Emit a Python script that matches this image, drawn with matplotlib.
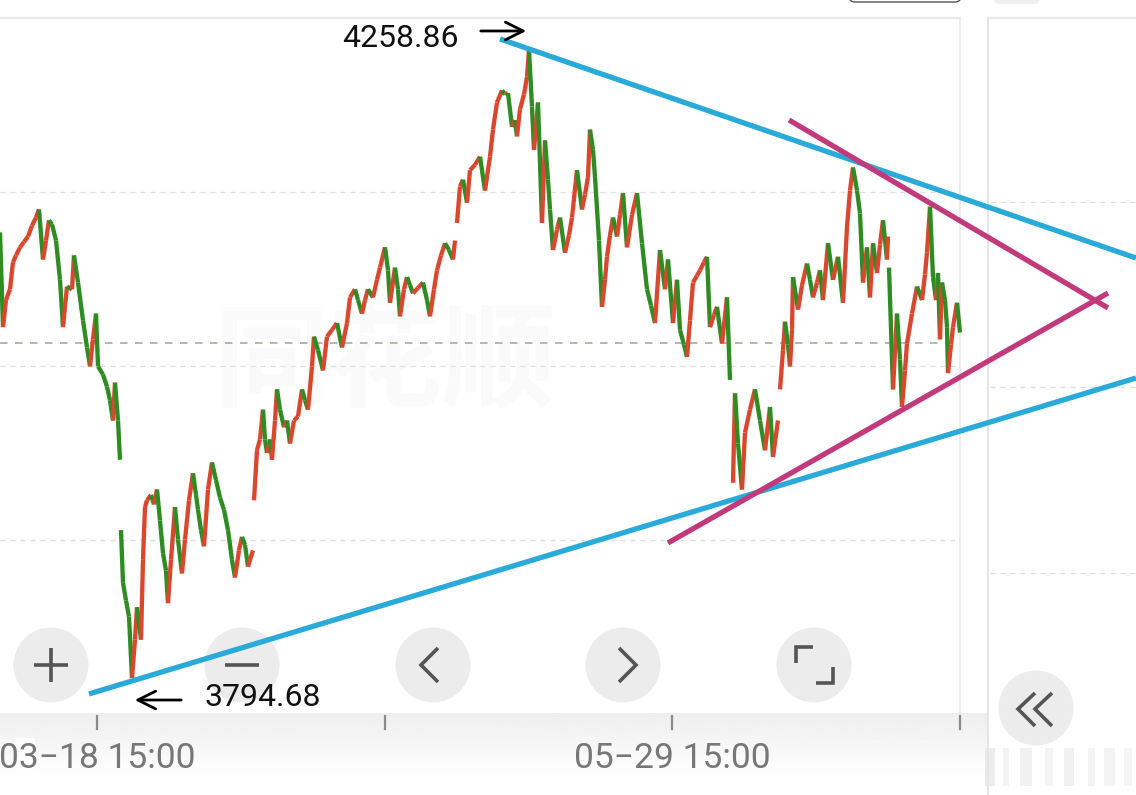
import numpy as np
import matplotlib.pyplot as plt
from matplotlib.collections import LineCollection
from matplotlib.patches import Circle, FancyBboxPatch, Rectangle
from matplotlib.transforms import blended_transform_factory

plt.rcParams['font.family'] = ['Roboto', 'DejaVu Sans']

# price sessions (bar index, price) - breaks between sessions are gaps
s1_bar = [0, 3, 6, 10, 13, 16, 20, 24, 28, 32, 36, 39, 43, 46, 49, 52, 56, 60, 63, 67, 72, 74, 78, 83, 87, 90,
          93, 96, 98, 103, 107, 110, 113, 115, 118, 120]
s1_px = [4124, 4054, 4074, 4082, 4102, 4107, 4113, 4117, 4121, 4129, 4135, 4141, 4104, 4118, 4133, 4130, 4118,
         4089, 4054, 4084, 4082, 4107, 4087, 4059, 4039, 4025, 4045, 4064, 4025, 4019, 4010, 4000, 3985, 4013,
         3985, 3956]

s2_bar = [121, 123, 126, 129, 132, 135, 137, 141, 143, 145, 147, 151, 154, 157, 160, 163, 166, 168, 171, 175, 178,
          182, 185, 189, 193, 196, 198, 201, 204, 208, 212, 216, 220, 224, 228, 232, 235, 239, 242, 245, 248, 253]
s2_px = [3904, 3865, 3852, 3840, 3794.68, 3823, 3847, 3823, 3882, 3921, 3926, 3930, 3923, 3934, 3911, 3887, 3874,
         3850, 3882, 3921, 3897, 3872, 3897, 3926, 3946, 3930, 3919, 3904, 3892, 3934, 3954, 3941, 3928, 3919,
         3904, 3882, 3869, 3889, 3899, 3893, 3877, 3889]

s3_bar = [254, 257, 260, 263, 265, 267, 270, 272, 275, 277, 280, 284, 287, 290, 294, 298, 302, 305, 308, 312, 314,
          318, 323, 327, 332, 337, 342, 347, 350, 355, 358, 362, 365, 368, 373, 377, 380, 385, 388, 390, 395, 398,
          400, 404, 407, 410, 413, 418, 423, 427, 430, 434, 437, 441, 445, 449, 453, 455]
s3_px = [3926, 3963, 3971, 3993, 3971, 3961, 3971, 3956, 3985, 4008, 3993, 3980, 3985, 3968, 3985, 3988, 4008,
         4000, 3993, 4025, 4047, 4037, 4022, 4047, 4052, 4057, 4039, 4057, 4076, 4082, 4074, 4064, 4074, 4082,
         4076, 4089, 4098, 4113, 4096, 4072, 4098, 4082, 4062, 4082, 4091, 4085, 4079, 4083, 4087, 4074, 4062,
         4082, 4096, 4107, 4116, 4111, 4104, 4118]

s4_bar = [457, 460, 463, 467, 470, 475, 480, 485, 490, 493, 497, 502, 505, 508, 512, 515, 517, 520, 524, 527, 529,
          532, 534, 538, 542, 545, 548, 550, 553, 557, 560, 565, 569, 572, 577, 582, 585, 588, 590, 593, 595, 599,
          602, 605, 607, 610, 613, 617, 620, 623, 627, 632, 637, 642, 647, 651, 655, 660, 665, 668, 673, 677, 680,
          684, 687, 690, 693, 697, 700, 704, 707, 710, 714, 717, 722, 727, 730]
s4_px = [4131, 4158, 4163, 4146, 4170, 4174, 4180, 4155, 4180, 4200, 4220, 4229, 4226, 4227, 4202, 4207, 4195,
         4215, 4226, 4239, 4258.86, 4217, 4185, 4220, 4131, 4192, 4163, 4141, 4111, 4126, 4135, 4109, 4122, 4135,
         4170, 4141, 4152, 4165, 4200, 4185, 4165, 4118, 4069, 4089, 4106, 4122, 4135, 4121, 4137, 4153, 4113,
         4137, 4153, 4116, 4082, 4070, 4057, 4111, 4082, 4104, 4057, 4089, 4052, 4041, 4032, 4059, 4087, 4092,
         4096, 4102, 4106, 4054, 4063, 4069, 4042, 4076, 4015]

s5_bar = [733, 735, 738, 742, 745, 750, 755, 760, 765, 770, 773, 778]
s5_px = [3939, 4005, 3968, 3934, 3976, 3993, 4008, 3985, 3963, 3995, 3958, 3985]

s6_bar = [780, 783, 785, 788, 790, 792, 793, 798, 802, 807, 810, 813, 817, 820, 823, 828, 833, 838, 843, 847, 850,
          853, 857, 860, 863, 867, 870, 873, 877, 880, 883, 887, 888]
s6_px = [4008, 4037, 4058, 4041, 4025, 4052, 4091, 4067, 4085, 4101, 4089, 4076, 4087, 4096, 4074, 4116, 4089,
         4106, 4072, 4128, 4155, 4172, 4155, 4138, 4087, 4113, 4076, 4116, 4094, 4115, 4133, 4104, 4121]

s7_bar = [889, 893, 897, 900, 902, 905, 907, 912, 917, 922, 925, 927, 930, 933, 936, 938, 940, 942, 945, 947, 948,
          951, 953, 957, 960]
s7_px = [4098, 4008, 4064, 4030, 3995, 4022, 4042, 4064, 4084, 4074, 4093, 4109, 4143, 4091, 4074, 4094, 4045,
         4087, 4074, 4054, 4020, 4041, 4054, 4072, 4050]

# hand drawn trend lines (bar, price)
cyan_up_bar, cyan_up_px = [500, 1136], [4267.0, 4105.1]
cyan_lo_bar, cyan_lo_px = [89, 1136], [3782.9, 4016.4]
mag_up_bar, mag_up_px = [789, 1108], [4207.1, 4068.2]
mag_lo_bar, mag_lo_px = [668, 1108], [3894.5, 4079.2]

high_val, high_bar = 4258.86, 529
low_val, low_bar = 3794.68, 132

tick_bars = [97, 385, 672, 960]
tick_text = {97: '03\u221218 15:00', 672: '05\u221229 15:00'}

grid_main = [4153.9, 4025.3, 3896.7]
prev_close = 4042.3
grid_side = [4146.5, 4009.8, 3872.3]

RED = '#d9472f'
GREEN = '#2f8c22'
CYAN = '#29aad8'
MAG = '#c13a7b'

fig = plt.figure(figsize=(11.36, 7.95), dpi=100)

# app chrome layer in pixel coordinates
ui = fig.add_axes([0, 0, 1, 1])
ui.axis('off')
grad = np.linspace(0.935, 1.0, 60).reshape(-1, 1)
ui.imshow(grad, cmap='gray', vmin=0, vmax=1, extent=[0, 988, 780, 713], aspect='auto', origin='upper', zorder=0)
ui.set_xlim(0, 1136)
ui.set_ylim(795, 0)

# borders
ui.plot([0, 960], [18, 18], color='#e9e9e9', lw=1.6)
ui.plot([988, 1136], [18, 18], color='#e9e9e9', lw=1.6)
ui.plot([960, 960], [18, 713], color='#ececec', lw=1.4)
ui.plot([988, 988], [18, 795], color='#e6e6e6', lw=1.6)
ui.add_patch(FancyBboxPatch((849, -20), 112, 22, boxstyle='round,pad=0,rounding_size=6',
                            fc='white', ec='#555555', lw=1.0))
ui.add_patch(FancyBboxPatch((994, -20), 46, 24, boxstyle='round,pad=0,rounding_size=6',
                            fc='#efefef', ec='none'))

# blurry watermark bars at bottom right
for bx, bw, bc in [(985, 10, '#e6e6e6'), (1003, 6, '#efefef'), (1020, 12, '#ececec'), (1045, 8, '#f0f0f0'),
                   (1064, 10, '#ebebeb'), (1088, 7, '#f0f0f0'), (1104, 11, '#eeeeee'), (1124, 8, '#f1f1f1')]:
    ui.add_patch(Rectangle((bx, 748), bw, 38, fc=bc, ec='none', alpha=0.7))

# faint watermark
ui.text(385, 365, '同花顺', family=['Noto Sans CJK SC'], fontsize=82, fontweight='bold', style='italic',
        color='#fafafa', ha='center', va='center', zorder=1)

# buttons
btn_c = '#ececec'
glyph = dict(color='#555555', lw=2.6, solid_capstyle='butt', solid_joinstyle='miter', zorder=6)
for cx, cy in [(51, 665), (242, 665), (433, 665), (623, 665), (814, 665), (1036, 708)]:
    ui.add_patch(Circle((cx, cy), 37.5, fc=btn_c, ec='none', zorder=5))
ui.plot([34, 68], [665, 665], **glyph)
ui.plot([51, 51], [648, 682], **glyph)
ui.plot([225, 259], [665, 665], **glyph)
ui.plot([438, 421, 438], [648, 665, 682], **glyph)
ui.plot([619, 636, 619], [648, 665, 682], **glyph)
ui.plot([796, 796, 813], [663, 647, 647], **glyph)
ui.plot([816, 833, 833], [683, 683, 667], **glyph)
ui.plot([1035, 1018, 1035], [693, 709, 726], **glyph)
ui.plot([1052, 1035, 1052], [693, 709, 726], **glyph)

# price layer
ax = fig.add_axes([0, 0, 1, 1])
ax.patch.set_alpha(0)
ax.axis('off')
ax.set_xlim(0, 1136)
ax.set_ylim(3708.2, 4295.8)

ax.hlines(grid_main, 0, 958, colors='#dedede', linestyles=(0, (4, 4)), lw=0.9, zorder=1)
ax.hlines([prev_close], 0, 958, colors='#b3a899', linestyles=(0, (4.5, 4.5)), lw=1.2, zorder=1)
ax.hlines(grid_side, 990, 1136, colors='#dedede', linestyles=(0, (4, 4)), lw=0.9, zorder=1)

sessions = [(s1_bar, s1_px), (s2_bar, s2_px), (s3_bar, s3_px), (s4_bar, s4_px),
            (s5_bar, s5_px), (s6_bar, s6_px), (s7_bar, s7_px)]
for bars, px in sessions:
    pts = np.column_stack([bars, px]).reshape(-1, 1, 2)
    segs = np.concatenate([pts[:-1], pts[1:]], axis=1)
    cols = [RED if b >= a else GREEN for a, b in zip(px[:-1], px[1:])]
    ax.add_collection(LineCollection(segs, colors=cols, linewidths=3.1, capstyle='butt', zorder=3))

for bx, py, c in [(cyan_up_bar, cyan_up_px, CYAN), (cyan_lo_bar, cyan_lo_px, CYAN),
                  (mag_up_bar, mag_up_px, MAG), (mag_lo_bar, mag_lo_px, MAG)]:
    ax.plot(bx, py, color=c, lw=3.8, solid_capstyle='butt', zorder=7)

# high / low annotations
ax.annotate('', xy=(high_bar, 4272.9), xytext=(478, 4272.9),
            arrowprops=dict(arrowstyle='->', color='black', lw=2.0, mutation_scale=32), zorder=8)
ax.text(342, 4267.0, f'{high_val:.2f}', fontsize=23, color='#111111', ha='left', va='center', zorder=8)
ax.annotate('', xy=(low_bar, 3778.4), xytext=(184, 3778.4),
            arrowprops=dict(arrowstyle='->', color='black', lw=2.0, mutation_scale=32), zorder=8)
ax.text(204, 3779.9, f'{low_val:.2f}', fontsize=23, color='#111111', ha='left', va='center', zorder=8)

# time axis
tr = blended_transform_factory(ax.transData, ui.transData)
for tb in tick_bars:
    ax.plot([tb, tb], [716, 729], color='#8a8a8a', lw=1.6, transform=tr, zorder=4, clip_on=False)
    if tb in tick_text:
        ax.text(tb, 758, tick_text[tb], transform=tr, fontsize=25.5, color='#777777',
                ha='center', va='center', zorder=4)
ui.add_patch(Rectangle((15, 738), 20, 40, fc='white', ec='none', alpha=0.75, zorder=3))

fig.savefig('out.png', dpi=100)
